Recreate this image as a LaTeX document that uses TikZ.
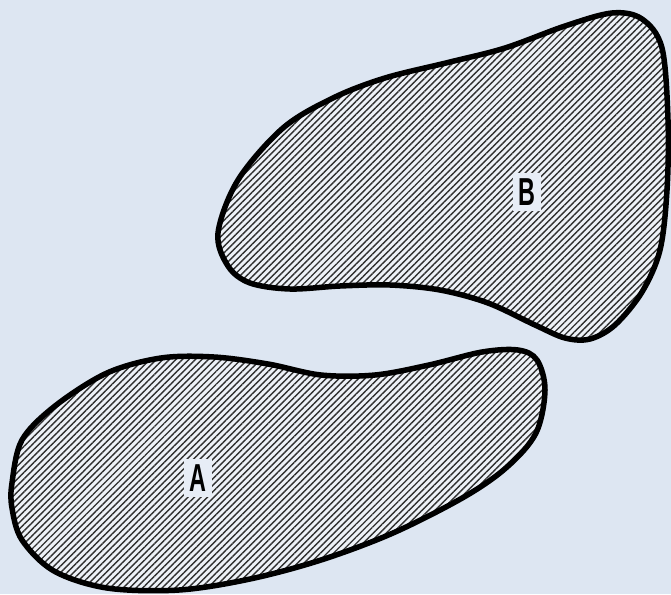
\documentclass[tikz,border=0pt]{standalone}
\usepackage{fontspec}
\setsansfont{Liberation Sans}
\usetikzlibrary{patterns.meta}
\definecolor{bg}{HTML}{DDE6F2}
\definecolor{hatch}{HTML}{303030}
\tikzset{
  blob/.style={line width=5.5pt, draw=black, line join=round,
    preaction={fill=bg!50!white},
    pattern={Lines[angle=45,distance=4.6pt,line width=1.4pt]}, pattern color=hatch},
  lbl/.style={fill=bg!70!white, inner xsep=6pt, inner ysep=6pt,
    font=\sffamily\bfseries\fontsize{39}{39}\selectfont}
}
\begin{document}
\begin{tikzpicture}[x=1pt,y=-1pt]
\fill[bg] (0,0) rectangle (671,594);
\useasboundingbox (0,0) rectangle (671,594);
% blob B
\draw[blob] plot[smooth cycle, tension=0.55] coordinates {
 (218,233) (228,266) (250,283) (290,289) (340,286) (390,285) (440,290)
 (488,303) (535,325) (565,338) (590,339) (615,325) (642,292) (660,250)
 (667,190) (668,120) (662,48) (642,19) (612,13) (565,26) (505,48)
 (450,62) (385,78) (333,98) (283,128) (238,180)};
% blob A
\draw[blob] plot[smooth cycle, tension=0.55] coordinates {
 (12,483) (22,440) (55,406) (107,373) (161,358) (214,357) (268,364)
 (321,375) (375,375) (429,365) (482,352) (518,350) (537,360) (545,390)
 (536,433) (507,467) (464,497) (393,533) (321,560) (250,579) (179,590)
 (107,588) (54,571) (22,540) (12,508)};
\node[lbl] (B) at (527,192) {\scalebox{0.6}[1]{B}};
\node[lbl] (A) at (198,478) {\scalebox{0.6}[1]{A}};
\end{tikzpicture}
\end{document}
